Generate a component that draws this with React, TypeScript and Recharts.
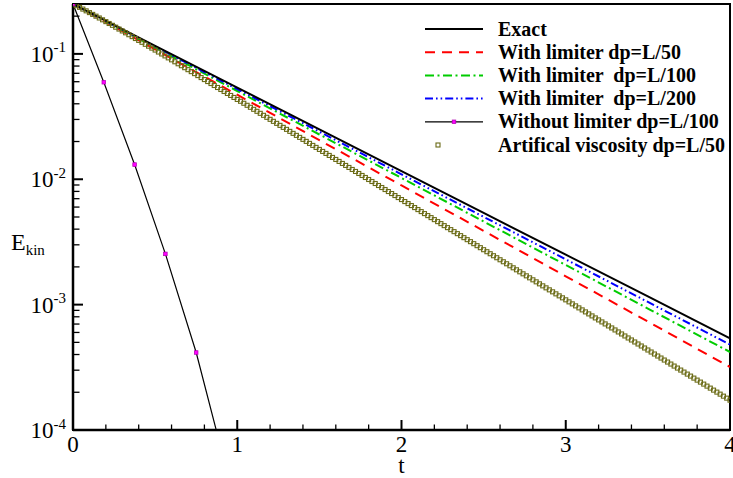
import React from 'react';
import { LineChart, Line, XAxis, YAxis, ReferenceArea, Legend, Label } from 'recharts';

const W = 733;
const H = 478;
const FONT = '"Liberation Serif", "Times New Roman", serif';

// t values of the smooth curves
const gridT = [0, 0.5, 1, 1.5, 2, 2.5, 3, 3.5, 4];
const exactE = [0.25, 0.11605, 0.05387, 0.02501, 0.01161, 0.005389, 0.002502, 0.0011614, 0.000539];
const lim50E = [0.25, 0.10865, 0.04722, 0.02052, 0.008918, 0.003876, 0.001684, 0.000732, 0.000318];
const lim100E = [0.25, 0.11245, 0.05058, 0.02275, 0.010234, 0.004603, 0.00207, 0.000931, 0.000419];
const lim200E = [0.25, 0.1144, 0.05235, 0.02396, 0.01096, 0.005017, 0.002296, 0.00105, 0.00048];

// without limiter (markers on all but the last point)
const noLimT = [0, 0.1875, 0.375, 0.5625, 0.75, 0.88];
const noLimE = [0.25, 0.0594, 0.0131, 0.00254, 0.000415, 0.000091];

// artificial viscosity, sampled every 0.02 in t
const viscE = [
  0.25, 0.2425, 0.235, 0.2277, 0.2205, 0.2135, 0.2066, 0.1999, 0.1934, 0.187,
  0.1808, 0.1748, 0.169, 0.1633, 0.1578, 0.1524, 0.1473, 0.1422, 0.1373, 0.1326,
  0.1281, 0.1237, 0.1193, 0.1152, 0.1112, 0.1073, 0.1035, 0.09987, 0.09635, 0.09296,
  0.08966, 0.0865, 0.08342, 0.08046, 0.07761, 0.07485, 0.07219, 0.06961, 0.06713, 0.06473,
  0.06241, 0.06018, 0.05802, 0.05595, 0.05394, 0.05201, 0.05014, 0.04835, 0.04661, 0.04493,
  0.04332, 0.04189, 0.04037, 0.03891, 0.0375, 0.03614, 0.03483, 0.03357, 0.03236, 0.03119,
  0.03006, 0.02897, 0.02792, 0.02691, 0.02594, 0.025, 0.0241, 0.02323, 0.02239, 0.02158,
  0.0208, 0.02005, 0.01932, 0.01862, 0.01795, 0.0173, 0.01667, 0.01607, 0.01549, 0.01493,
  0.01439, 0.01387, 0.01337, 0.01289, 0.01242, 0.01197, 0.01154, 0.01112, 0.01072, 0.01033,
  0.009956, 0.009596, 0.009249, 0.008914, 0.008592, 0.008281, 0.007981, 0.007692, 0.007414, 0.007146,
  0.006888, 0.006639, 0.006399, 0.006168, 0.005945, 0.00573, 0.005523, 0.005323, 0.00513, 0.004944,
  0.004765, 0.004593, 0.004427, 0.004267, 0.004113, 0.003964, 0.003821, 0.003683, 0.00355, 0.003422,
  0.003298, 0.003179, 0.003064, 0.002953, 0.002846,
  0.002742, 0.002643, 0.002547, 0.002455, 0.002366, 0.00228, 0.002198, 0.002118, 0.002041, 0.001967,
  0.001896, 0.001827, 0.001761, 0.001697, 0.001636, 0.001577, 0.00152, 0.001465, 0.001412, 0.001361,
  0.001312, 0.001265, 0.001219, 0.001175, 0.001133, 0.001092, 0.001052, 0.001014, 0.0009773, 0.000942,
  0.0009079, 0.0008751, 0.0008434, 0.0008129, 0.0007835, 0.0007552, 0.0007279, 0.0007016, 0.0006762, 0.0006517,
  0.0006281, 0.0006054, 0.0005835, 0.0005624, 0.0005421, 0.0005225, 0.0005036, 0.0004854, 0.0004678, 0.0004509,
  0.0004346, 0.0004189, 0.0004037, 0.0003891, 0.000375, 0.0003614, 0.0003483, 0.0003357, 0.0003236, 0.0003119,
  0.0003006, 0.0002897, 0.0002792, 0.0002691, 0.0002594, 0.00025, 0.000241, 0.0002323, 0.0002239, 0.0002158,
  0.000208, 0.0002005, 0.0001932, 0.0001862, 0.0001795, 0.000173,
];
const viscT = viscE.map((_, i) => i * 0.02);

const xTicks = [0, 0.2, 0.4, 0.6, 0.8, 1, 1.2, 1.4, 1.6, 1.8, 2, 2.2, 2.4, 2.6, 2.8, 3, 3.2, 3.4, 3.6, 3.8, 4];
const xMajor = [0, 1, 2, 3, 4];
const yTicks = [
  0.0001, 0.0002, 0.0003, 0.0004, 0.0005, 0.0006, 0.0007, 0.0008, 0.0009,
  0.001, 0.002, 0.003, 0.004, 0.005, 0.006, 0.007, 0.008, 0.009,
  0.01, 0.02, 0.03, 0.04, 0.05, 0.06, 0.07, 0.08, 0.09,
  0.1, 0.2,
];
const yMajor = [0.0001, 0.001, 0.01, 0.1];
const yMajorExp = ['-4', '-3', '-2', '-1'];

const seriesNames = [
  'Exact',
  'With limiter dp=L/50',
  'With limiter  dp=L/100',
  'With limiter  dp=L/200',
  'Without limiter dp=L/100',
  'Artifical viscosity dp=L/50',
];

const toData = (ts: number[], es: number[]) => ts.map((t, i) => ({ t, e: es[i] }));
const exactData = toData(gridT, exactE);
const lim50Data = toData(gridT, lim50E);
const lim100Data = toData(gridT, lim100E);
const lim200Data = toData(gridT, lim200E);
const noLimData = toData(noLimT, noLimE);
const viscData = toData(viscT, viscE);

const styles = [
  { color: '#000000', dash: undefined as string | undefined, width: 2 },
  { color: '#ff0000', dash: '10 7', width: 2 },
  { color: '#00cc00', dash: '9 3.5 2 3.5', width: 2 },
  { color: '#0000ff', dash: '8 3 1.6 3 1.6 3', width: 2 },
  { color: '#000000', dash: undefined, width: 1.2 },
  { color: '#6b6b16', dash: undefined, width: 0 },
];

const XTick = (props: any) => {
  const { x, y, payload } = props;
  const v = payload.value;
  const mi = xMajor.findIndex((m) => Math.abs(m - v) < 1e-6);
  const major = mi >= 0;
  return (
    <g>
      <line x1={x} x2={x} y1={y} y2={y - (major ? 10 : 5.5)} stroke="#000" strokeWidth={major ? 2 : 1.3} />
      {major && (
        <text x={x} y={y + 22} textAnchor="middle" fontSize={23} fontFamily={FONT} fill="#000">
          {String(xMajor[mi])}
        </text>
      )}
    </g>
  );
};

const YTick = (props: any) => {
  const { x, y, payload } = props;
  const v = payload.value;
  const mi = yMajor.findIndex((m) => Math.abs(m - v) / m < 1e-6);
  const major = mi >= 0;
  return (
    <g>
      <line x1={x} x2={x + (major ? 10 : 6.5)} y1={y} y2={y} stroke="#000" strokeWidth={major ? 2 : 1.3} />
      {major && (
        <text x={x - 7} y={y + 8} textAnchor="end" fontFamily={FONT} fill="#000">
          <tspan fontSize={23}>10</tspan>
          <tspan fontSize={15} dy={-9.5}>{yMajorExp[mi]}</tspan>
        </text>
      )}
    </g>
  );
};

const ViscDot = (p: any) => {
  if (p.cx == null || p.cy == null) return <g key={p.index} />;
  return (
    <rect key={p.index} x={p.cx - 2} y={p.cy - 2} width={4} height={4} fill="none" stroke="#6b6b16" strokeWidth={1.1} />
  );
};

const NoLimDot = (p: any) => {
  if (p.cx == null || p.cy == null || p.index >= noLimT.length - 1) return <g key={p.index} />;
  return (
    <rect key={p.index} x={p.cx - 1.8} y={p.cy - 1.8} width={3.6} height={3.6} fill="#ff00ff" stroke="#b000b0" strokeWidth={0.7} />
  );
};

const EkinLabel = () => (
  <text x={11} y={250} fontFamily={FONT} fill="#000">
    <tspan fontSize={24}>E</tspan>
    <tspan fontSize={15} dy={5}>kin</tspan>
  </text>
);

const LegendBox = () => {
  const x0 = 425;
  const x1 = 483;
  const tx = 498;
  return (
    <svg width={W} height={H} style={{ position: 'absolute', left: 0, top: 0, pointerEvents: 'none' }}>
      {seriesNames.map((name, i) => {
        const cy = 29 + 23.2 * i;
        const s = styles[i];
        return (
          <g key={name}>
            {i < 5 && (
              <line x1={x0} x2={x1} y1={cy} y2={cy} stroke={s.color} strokeWidth={s.width} strokeDasharray={s.dash} />
            )}
            {i === 4 && (
              <rect x={454 - 1.8} y={cy - 1.8} width={3.6} height={3.6} fill="#ff00ff" stroke="#b000b0" strokeWidth={0.7} />
            )}
            {i === 5 && (
              <rect x={438 - 2} y={cy - 2} width={4} height={4} fill="none" stroke="#6b6b16" strokeWidth={1.1} />
            )}
            <text x={tx} y={cy + 6.5} fontSize={20} fontWeight="bold" fontFamily={FONT} fill="#000" style={{ whiteSpace: 'pre' }}>
              {name}
            </text>
          </g>
        );
      })}
    </svg>
  );
};

export default function App() {
  return (
    <div style={{ position: 'absolute', left: 0, top: 0, width: W, height: H, background: '#fff' }}>
      <LineChart width={W} height={H} margin={{ top: 4, right: 3, bottom: 0, left: 0 }}>
        <XAxis
          type="number"
          dataKey="t"
          domain={[0, 4]}
          ticks={xTicks}
          interval={0}
          tick={<XTick />}
          tickLine={false}
          tickSize={0}
          tickMargin={0}
          height={48}
          axisLine={{ stroke: '#000', strokeWidth: 2.5 }}
          allowDataOverflow
        >
          <Label value="t" position="insideBottom" offset={5} fontSize={23} fontFamily={FONT} fill="#000" />
        </XAxis>
        <YAxis
          type="number"
          dataKey="e"
          scale="log"
          domain={[0.0001, 0.25]}
          ticks={yTicks}
          interval={0}
          tick={<YTick />}
          tickLine={false}
          tickSize={0}
          tickMargin={0}
          width={73}
          axisLine={{ stroke: '#000', strokeWidth: 2.5 }}
          allowDataOverflow
        >
          <Label content={<EkinLabel />} />
        </YAxis>
        <ReferenceArea x1={0} x2={4} y1={0.0001} y2={0.25} fill="none" stroke="#000" strokeWidth={2} />
        <Line
          data={viscData}
          dataKey="e"
          name={seriesNames[5]}
          stroke="none"
          dot={(p: any) => <ViscDot {...p} key={p.index} />}
          activeDot={false}
          isAnimationActive={false}
        />
        <Line
          data={noLimData}
          dataKey="e"
          name={seriesNames[4]}
          stroke={styles[4].color}
          strokeWidth={styles[4].width}
          dot={(p: any) => <NoLimDot {...p} key={p.index} />}
          activeDot={false}
          isAnimationActive={false}
        />
        <Line data={lim50Data} dataKey="e" name={seriesNames[1]} stroke={styles[1].color} strokeWidth={styles[1].width} strokeDasharray={styles[1].dash} dot={false} activeDot={false} isAnimationActive={false} />
        <Line data={lim100Data} dataKey="e" name={seriesNames[2]} stroke={styles[2].color} strokeWidth={styles[2].width} strokeDasharray={styles[2].dash} dot={false} activeDot={false} isAnimationActive={false} />
        <Line data={lim200Data} dataKey="e" name={seriesNames[3]} stroke={styles[3].color} strokeWidth={styles[3].width} strokeDasharray={styles[3].dash} dot={false} activeDot={false} isAnimationActive={false} />
        <Line data={exactData} dataKey="e" name={seriesNames[0]} stroke={styles[0].color} strokeWidth={styles[0].width} dot={false} activeDot={false} isAnimationActive={false} />
        <Legend
          layout="horizontal"
          verticalAlign="middle"
          align="center"
          content={<LegendBox />}
          wrapperStyle={{ position: 'absolute', left: 0, top: 0, width: W, height: H, pointerEvents: 'none' }}
        />
      </LineChart>
    </div>
  );
}
